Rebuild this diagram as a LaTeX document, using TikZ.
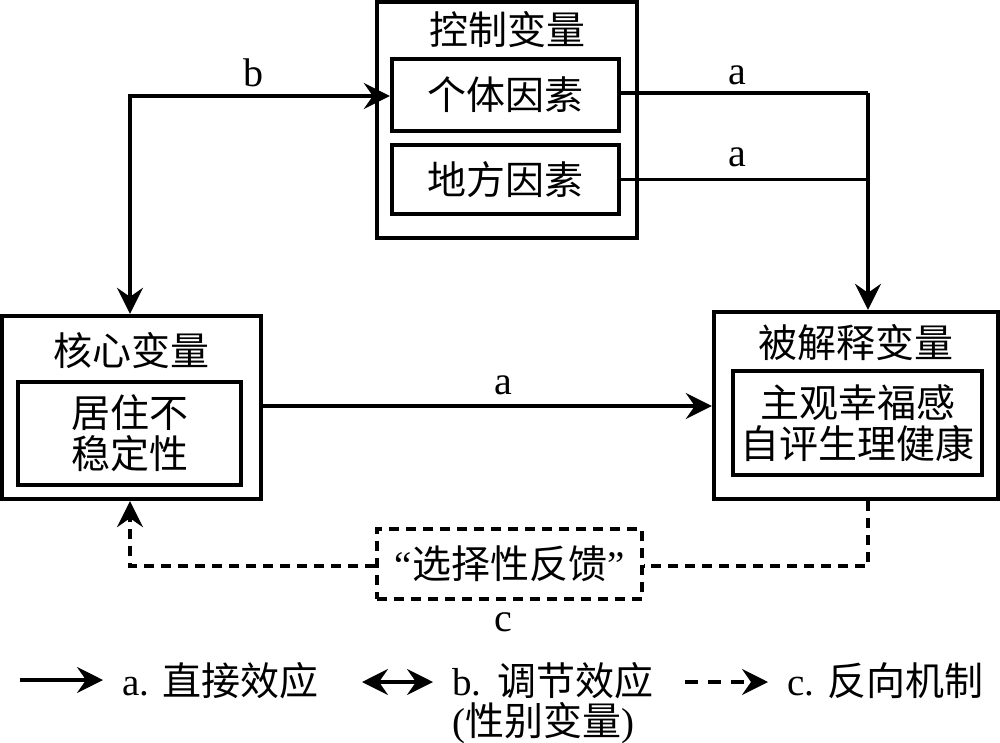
\documentclass[tikz,border=0pt]{standalone}
\usepackage{fontspec}
\setmainfont{Liberation Serif}
\newfontfamily\cjk{Noto Sans CJK SC}
\usetikzlibrary{arrows.meta}
\begin{document}
\begin{tikzpicture}[x=0.5pt,y=-0.5pt,
  every node/.style={font=\fontsize{19.5}{20.5}\selectfont, inner sep=0pt},
  obox/.style={draw, line width=2.2pt},
  ibox/.style={draw, line width=2.2pt, align=center},
  fbox/.style={draw, line width=1.6pt, dash pattern=on 5pt off 3.5pt},
  conn/.style={line width=1.6pt},
  dconn/.style={line width=1.6pt, dash pattern=on 5pt off 3.5pt},
  tip/.style={-{Stealth[length=13pt,width=13pt,inset=4.5pt]}},
  btip/.style={{Stealth[length=13pt,width=13pt,inset=4.5pt]}-{Stealth[length=13pt,width=13pt,inset=4.5pt]}},
  lbl/.style={font=\fontsize{20}{22}\selectfont}
]
\useasboundingbox (0,0) rectangle (1000,743);

% control variables
\node[obox, minimum width=130pt, minimum height=118pt] (ctrl) at (507,120) {};
\node (ctrlT) at (507,30) {\cjk 控制变量};
\node[ibox, minimum width=113.5pt, minimum height=36pt] (indiv) at (505.5,95) {\cjk 个体因素};
\node[ibox, minimum width=113.5pt, minimum height=34.5pt] (local) at (505.5,179.5) {\cjk 地方因素};

% core variable
\node[obox, minimum width=129.5pt, minimum height=91.5pt] (core) at (131.5,407.5) {};
\node (coreT) at (131,351) {\cjk 核心变量};
\node[ibox, minimum width=111.5pt, minimum height=51.5pt] (coreIn) at (129.5,433.5) {\cjk 居住不\\\cjk 稳定性};

% explained variable
\node[obox, minimum width=142pt, minimum height=93.5pt] (expl) at (856,405.5) {};
\node (explT) at (856,343) {\cjk 被解释变量};
\node[ibox, minimum width=124.5pt, minimum height=52pt] (explIn) at (857.5,423) {\cjk 主观幸福感\\\cjk 自评生理健康};

% feedback box
\node[fbox, minimum width=132.5pt, minimum height=35pt] (fb) at (509.5,564) {“{\cjk 选择性反馈}”};

% coordinates
\coordinate (bc) at (130,96);
\coordinate (ac) at (868,93);
\coordinate (dc) at (868,566);
\coordinate (dl) at (130,566);

% b connector
\draw[conn, btip] (core.north -| bc) -- (bc) -- (indiv.west |- bc);
\node[lbl] (lb) at (253,73) {b};

% a connectors
\draw[conn] (indiv.east |- ac) -- (ac);
\draw[conn] (local.east) -- (local.east -| ac);
\draw[conn, tip] (ac) -- (ac |- expl.north);
\node[lbl] (la1) at (737,75) {a};
\node[lbl] (la2) at (737,157) {a};
\draw[conn, tip] (core.east |- 0,406) -- (expl.west |- 0,406);
\node[lbl] (la3) at (503,385) {a};

% c connector
\draw[dconn] (dc |- expl.south) -- (dc) -- (fb.east |- dc);
\draw[dconn, tip] (fb.west |- dl) -- (dl) -- (dl |- core.south);
\node[lbl] (lc) at (503,622) {c};

% legend
\coordinate (l1a) at (20,680);
\coordinate (l1b) at (103,680);
\coordinate (l2a) at (362,682);
\coordinate (l2b) at (433,682);
\coordinate (l3a) at (685,682);
\coordinate (l3b) at (768,682);
\draw[conn, tip] (l1a) -- (l1b);
\node[anchor=west] (t1) at (122,681) {a. {\cjk 直接效应}};
\draw[conn, btip] (l2a) -- (l2b);
\node[anchor=west] (t2) at (452,681) {b.\hspace{0.4em}{\cjk 调节效应}};
\node (t2b) at (543,723) {({\cjk 性别变量})};
\draw[conn, dash pattern=on 6.5pt off 5pt, tip] (l3a) -- (l3b);
\node[anchor=west] (t3) at (787,681) {c. {\cjk 反向机制}};
\end{tikzpicture}
\end{document}
